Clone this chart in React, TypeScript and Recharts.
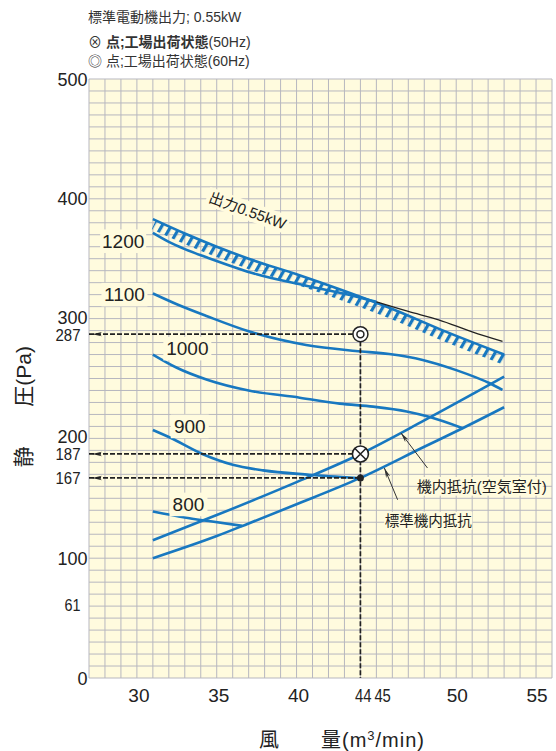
import React from "react";
import {
  CartesianGrid,
  ComposedChart,
  Line,
  ReferenceDot,
  ReferenceLine,
  Scatter,
  XAxis,
  YAxis,
} from "recharts";

const SANS = "'Liberation Sans', 'Noto Sans CJK JP', sans-serif";
const BLUE = "#1878c0";
const INK = "#222";
const PAPER = "#fffbde";

const X_MIN = 27;
const X_MAX = 56;
const Y_MAX = 500;

const xTicks = [30, 35, 40, 44, 45, 50, 55];
const yTicks = [0, 61, 100, 167, 187, 200, 287, 300, 400, 500];
const narrowTicks: Record<number, number> = { 44: 16.5, 45: 16.5, 61: 16, 167: 25, 187: 25, 287: 25 };

// fan curves (x: m3/min, y: Pa)
const powerLimit = [
  { x: 31, y: 383 }, { x: 33, y: 371 }, { x: 35, y: 360 }, { x: 37, y: 350 }, { x: 40, y: 337 },
  { x: 43, y: 323 }, { x: 46, y: 308 }, { x: 49, y: 291 }, { x: 53, y: 270 },
];
const rpm1200 = [
  { x: 31, y: 371.5 }, { x: 32, y: 364 }, { x: 33, y: 358 }, { x: 34.4, y: 351 }, { x: 37.5, y: 337 },
  { x: 40.6, y: 327.5 }, { x: 43.7, y: 318.5 }, { x: 45, y: 314 },
];
const rpm1200Over = [
  { x: 45, y: 314 }, { x: 47, y: 306 }, { x: 48.9, y: 299 }, { x: 51, y: 289 }, { x: 52.9, y: 281 },
];
const rpm1100 = [
  { x: 31, y: 321 }, { x: 32.5, y: 312 }, { x: 34.4, y: 302 }, { x: 37.1, y: 289 }, { x: 40.6, y: 278 },
  { x: 43.7, y: 273 }, { x: 45.8, y: 270.5 }, { x: 47.9, y: 265.5 }, { x: 50, y: 257 }, { x: 52.1, y: 246 },
  { x: 52.9, y: 240.5 },
];
const rpm1000 = [
  { x: 31, y: 270 }, { x: 32.5, y: 259 }, { x: 34.4, y: 249 }, { x: 37, y: 240 }, { x: 40.2, y: 234 },
  { x: 42.7, y: 229 }, { x: 44.8, y: 226.5 }, { x: 46.9, y: 222.5 }, { x: 48.3, y: 218 }, { x: 50.4, y: 208.5 },
];
const rpm900 = [
  { x: 31, y: 207 }, { x: 32.1, y: 200.5 }, { x: 34.1, y: 187 }, { x: 36, y: 178 }, { x: 37.9, y: 173.3 },
  { x: 40.8, y: 169.7 }, { x: 43.8, y: 167 },
];
const rpm800 = [{ x: 31, y: 139 }, { x: 33, y: 134 }, { x: 34.5, y: 131 }, { x: 36.6, y: 127 }];
const resistChamber = [
  { x: 31, y: 115 }, { x: 35, y: 136 }, { x: 40, y: 163.5 }, { x: 44, y: 187 }, { x: 48, y: 215 }, { x: 53, y: 251.5 },
];
const resistStd = [
  { x: 31, y: 100 }, { x: 35, y: 118.5 }, { x: 37, y: 129 }, { x: 40, y: 145 }, { x: 44, y: 167 },
  { x: 48, y: 193 }, { x: 50.4, y: 208.5 }, { x: 53, y: 226 },
];

// operating points
const point60 = [{ x: 44, y: 287 }];
const point50 = [{ x: 44, y: 187 }];
const pointStd = [{ x: 44, y: 167 }];

// curve labels: text, position, box width
const curveLabels = [
  { text: "1200", x: 29.14, y: 364.6, w: 46 },
  { text: "1100", x: 29.22, y: 320, w: 46 },
  { text: "1000", x: 33.16, y: 274.9, w: 48 },
  { text: "900", x: 33.31, y: 210, w: 38 },
  { text: "800", x: 33.23, y: 144.9, w: 38 },
];

const gridX = Array.from({ length: X_MAX - X_MIN + 1 }, (_, i) => X_MIN + i);
const gridY = Array.from({ length: Y_MAX / 10 + 1 }, (_, i) => i * 10);

const XTick = (props: any) => {
  const { x, y, payload } = props;
  const v = payload.value as number;
  let anchor: "start" | "middle" | "end" = "middle";
  let dx = 2;
  if (v === 44) { anchor = "start"; dx = -5.5; }
  if (v === 45) { anchor = "end"; dx = 14.5; }
  if (v >= 50) dx = 1;
  const tl = narrowTicks[v];
  return (
    <text x={x + dx} y={y + 24} textAnchor={anchor} fontSize={19} fontFamily={SANS} fill={INK}
      {...(tl ? { textLength: tl, lengthAdjust: "spacingAndGlyphs" } : {})}>
      {v}
    </text>
  );
};

const YTick = (props: any) => {
  const { x, y, payload } = props;
  const v = payload.value as number;
  const tl = narrowTicks[v];
  const nudge = v === 300 || v === 200 ? -1.5 : v === 287 || v === 187 ? 0.5 : 0;
  return (
    <text x={x - (tl ? 8.5 : 1.5)} y={y + (tl ? 6 : 6.5) + nudge} textAnchor="end" fontSize={tl ? 17 : 18}
      fontFamily={SANS} fill={INK}
      {...(tl ? { textLength: tl, lengthAdjust: "spacingAndGlyphs" } : {})}>
      {v}
    </text>
  );
};

const guide = (markerStart?: string) => (p: any) => (
  <line x1={p.x1} y1={p.y1} x2={p.x2} y2={p.y2} stroke={INK} strokeWidth={1.7}
    strokeDasharray="5 2" markerStart={markerStart} />
);

const leader = (p: any) => (
  <line x1={p.x1} y1={p.y1} x2={p.x2} y2={p.y2} stroke="#333" strokeWidth={1} markerEnd="url(#arrEnd)" />
);

const boxLabel = (text: string, w: number, size: number, rotate = 0) => (p: any) => {
  const { cx, cy } = p;
  return (
    <g transform={rotate ? `rotate(${rotate}, ${cx}, ${cy})` : undefined}>
      <rect x={cx - w / 2} y={cy - size * 0.62} width={w} height={size * 1.24} fill={PAPER} />
      <text x={cx} y={cy} textAnchor="middle" dominantBaseline="central" fontSize={size}
        fontFamily={SANS} fill={INK}>
        {text}
      </text>
    </g>
  );
};

const DoubleCircle = (p: any) => (
  <g>
    <circle cx={p.cx} cy={p.cy} r={7.5} fill="#fff" stroke={INK} strokeWidth={1.5} />
    <circle cx={p.cx} cy={p.cy} r={3.5} fill="none" stroke={INK} strokeWidth={1.5} />
  </g>
);

const CrossCircle = (p: any) => (
  <g>
    <circle cx={p.cx} cy={p.cy} r={8} fill="#fff" stroke={INK} strokeWidth={1.6} />
    <path d={`M${p.cx - 5.5},${p.cy - 5.5}L${p.cx + 5.5},${p.cy + 5.5}M${p.cx + 5.5},${p.cy - 5.5}L${p.cx - 5.5},${p.cy + 5.5}`}
      stroke={INK} strokeWidth={1.6} />
  </g>
);

const Dot = (p: any) => <circle cx={p.cx} cy={p.cy} r={3.5} fill={INK} />;

export default function App() {
  const curve = (data: { x: number; y: number }[], key: string) => (
    <Line key={key} data={data} dataKey="y" type="monotone" stroke={BLUE} strokeWidth={2.6}
      dot={false} activeDot={false} isAnimationActive={false} />
  );

  return (
    <div style={{ position: "absolute", left: 0, top: 0, width: 556, height: 751, background: "#fff" }}>
      <style>{`.hatch-band path { transform: translate(1px, 5.5px); }`}</style>
      <ComposedChart width={556} height={751} margin={{ top: 79, right: 4, bottom: 0, left: 0 }}>
        <defs>
          <pattern id="hatch" patternUnits="userSpaceOnUse" width={8} height={8} patternTransform="rotate(30)">
            <rect x={0} y={0} width={3.2} height={8} fill={BLUE} />
          </pattern>
          <marker id="arrL" viewBox="-3 0 13 6" refX={-3} refY={3} markerWidth={13} markerHeight={6}
            orient="auto" markerUnits="userSpaceOnUse">
            <path d="M0,3 L10,0.8 L7,3 L10,5.2 Z" fill={INK} />
          </marker>
          <marker id="arrEnd" viewBox="0 0 10 6" refX={10} refY={3} markerWidth={10} markerHeight={6}
            orient="auto" markerUnits="userSpaceOnUse">
            <path d="M10,3 L0,0.8 L3,3 L0,5.2 Z" fill="#333" />
          </marker>
        </defs>
        <CartesianGrid
          fill={PAPER}
          fillOpacity={1}
          stroke="#b7b7bf"
          strokeWidth={1}
          verticalCoordinatesGenerator={({ offset }: any) => {
            const o = offset ?? { left: 89, width: 463 };
            return gridX.map((v) => o.left + ((v - X_MIN) / (X_MAX - X_MIN)) * o.width);
          }}
          horizontalCoordinatesGenerator={({ offset }: any) => {
            const o = offset ?? { top: 79, height: 599 };
            return gridY.map((v) => o.top + o.height - (v / Y_MAX) * o.height);
          }}
        />
        <XAxis type="number" dataKey="x" domain={[X_MIN, X_MAX]} ticks={xTicks} interval={0}
          allowDataOverflow height={73} axisLine={false} tickLine={false} tickSize={0} tickMargin={0}
          tick={<XTick />} />
        <YAxis type="number" domain={[0, Y_MAX]} ticks={yTicks} interval={0} allowDataOverflow
          width={89} axisLine={false} tickLine={false} tickSize={0} tickMargin={0} tick={<YTick />} />

        <Line className="hatch-band" data={powerLimit} dataKey="y" type="monotone" stroke="url(#hatch)"
          strokeWidth={10} dot={false} activeDot={false} isAnimationActive={false} />
        {curve(powerLimit, "power")}
        {curve(rpm1200, "r1200")}
        <Line data={rpm1200Over} dataKey="y" type="monotone" stroke={INK} strokeWidth={1.3}
          dot={false} activeDot={false} isAnimationActive={false} />
        {curve(rpm1100, "r1100")}
        {curve(rpm1000, "r1000")}
        {curve(rpm900, "r900")}
        {curve(rpm800, "r800")}
        {curve(resistChamber, "rc")}
        {curve(resistStd, "rs")}

        <ReferenceLine segment={[{ x: X_MIN, y: 287 }, { x: 44, y: 287 }]} shape={guide("url(#arrL)")} ifOverflow="visible" />
        <ReferenceLine segment={[{ x: X_MIN, y: 187 }, { x: 44, y: 187 }]} shape={guide("url(#arrL)")} ifOverflow="visible" />
        <ReferenceLine segment={[{ x: X_MIN, y: 167 }, { x: 44, y: 167 }]} shape={guide("url(#arrL)")} ifOverflow="visible" />
        <ReferenceLine segment={[{ x: 44, y: 287 }, { x: 44, y: 0 }]} shape={guide()} ifOverflow="visible" />

        <ReferenceLine segment={[{ x: 48.2, y: 175.3 }, { x: 46.54, y: 204.5 }]} shape={leader} ifOverflow="visible" />
        <ReferenceLine segment={[{ x: 46.33, y: 148.8 }, { x: 45.5, y: 175.3 }]} shape={leader} ifOverflow="visible" />

        {curveLabels.map((l) => (
          <ReferenceDot key={l.text} x={l.x} y={l.y} r={0} ifOverflow="visible" shape={boxLabel(l.text, l.w, 19)} />
        ))}
        <ReferenceDot x={36.94} y={390.2} r={0} ifOverflow="visible" shape={boxLabel("出力0.55kW", 86, 15, 20)} />
        <ReferenceDot x={51.6} y={160} r={0} ifOverflow="visible" shape={boxLabel("機内抵抗(空気室付)", 122, 15)} />
        <ReferenceDot x={48.25} y={131.3} r={0} ifOverflow="visible" shape={boxLabel("標準機内抵抗", 88, 14.5)} />

        <Scatter data={point60} dataKey="y" shape={DoubleCircle} isAnimationActive={false} />
        <Scatter data={point50} dataKey="y" shape={CrossCircle} isAnimationActive={false} />
        <Scatter data={pointStd} dataKey="y" shape={Dot} isAnimationActive={false} />
      </ComposedChart>

      <svg width={556} height={751} style={{ position: "absolute", left: 0, top: 0, pointerEvents: "none" }}>
        <g fontFamily={SANS} fill="#333" fontSize={14}>
          <text x={88} y={22}>標準電動機出力; 0.55kW</text>
          <text x={88} y={47}>
            <tspan>⊗ </tspan>
            <tspan fontWeight="bold">点;工場出荷状態</tspan>
            <tspan>(50Hz)</tspan>
          </text>
          <text x={88} y={65.5}>
            <tspan>◎ </tspan>
            <tspan>点;工場出荷状態(60Hz)</tspan>
          </text>
        </g>
        <g fontFamily={SANS} fill={INK} fontSize={20}>
          <text x={259} y={747}>風</text>
          <text x={321} y={747} letterSpacing={1}>
            量(m<tspan dy={-7} fontSize={13}>3</tspan><tspan dy={7}>/min)</tspan>
          </text>
        </g>
        <g fontFamily={SANS} fill={INK} fontSize={21}>
          <text x={24} y={456.7} textAnchor="middle" dominantBaseline="central"
            transform="rotate(-90, 24, 456.7)">静</text>
          <text x={24} y={406.7} textAnchor="start" dominantBaseline="central"
            transform="rotate(-90, 24, 406.7)">圧(Pa)</text>
        </g>
      </svg>
    </div>
  );
}
